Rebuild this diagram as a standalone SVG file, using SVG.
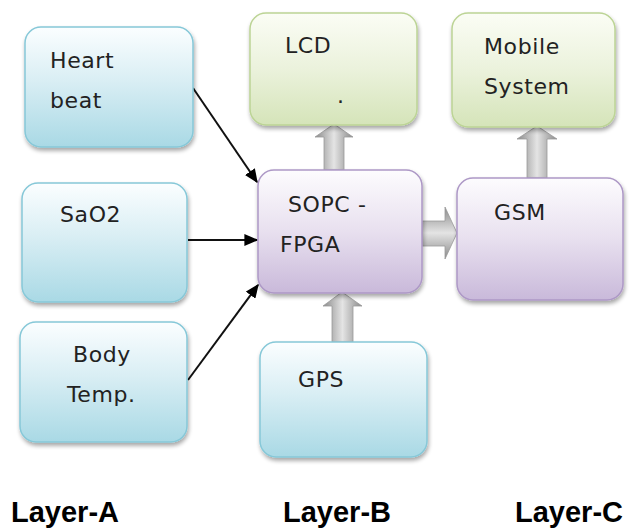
<svg xmlns="http://www.w3.org/2000/svg" width="634" height="529" viewBox="0 0 634 529">
<defs>
<linearGradient id="gb" x1="0" y1="0" x2="0" y2="1"><stop offset="0" stop-color="#fbfeff"/><stop offset="0.45" stop-color="#d9eef4"/><stop offset="1" stop-color="#a9d9e5"/></linearGradient>
<linearGradient id="gg" x1="0" y1="0" x2="0" y2="1"><stop offset="0" stop-color="#fbfdf5"/><stop offset="0.5" stop-color="#ebf2dc"/><stop offset="1" stop-color="#d5e4b9"/></linearGradient>
<linearGradient id="gp" x1="0" y1="0" x2="0" y2="1"><stop offset="0" stop-color="#fdfcfe"/><stop offset="0.5" stop-color="#e8e0ef"/><stop offset="1" stop-color="#c9b9da"/></linearGradient>
<linearGradient id="ga" x1="0" y1="0" x2="1" y2="0"><stop offset="0" stop-color="#8a8a8a"/><stop offset="0.5" stop-color="#e4e4e4"/><stop offset="1" stop-color="#8a8a8a"/></linearGradient>
<linearGradient id="gah" x1="0" y1="0" x2="0" y2="1"><stop offset="0" stop-color="#8a8a8a"/><stop offset="0.5" stop-color="#e4e4e4"/><stop offset="1" stop-color="#8a8a8a"/></linearGradient>
<filter id="sh" x="-10%" y="-10%" width="125%" height="130%"><feGaussianBlur in="SourceAlpha" stdDeviation="2"/><feOffset dx="1" dy="3"/><feComponentTransfer><feFuncA type="linear" slope="0.35"/></feComponentTransfer><feMerge><feMergeNode/><feMergeNode in="SourceGraphic"/></feMerge></filter>
<marker id="ah" viewBox="0 0 10 10" refX="9" refY="5" markerWidth="14" markerHeight="12" markerUnits="userSpaceOnUse" orient="auto" preserveAspectRatio="none"><path d="M0,0 L10,5 L0,10 z" fill="#000"/></marker>
</defs>
<style>
.b{fill:url(#gb);stroke:#86c8d8;stroke-width:1.5;filter:url(#sh)}
.g{fill:url(#gg);stroke:#bcd495;stroke-width:1.5;filter:url(#sh)}
.p{fill:url(#gp);stroke:#ad98c6;stroke-width:1.5;filter:url(#sh)}
.t{font-family:"DejaVu Sans",Verdana,sans-serif;font-size:22px;fill:#222;letter-spacing:0.6px}
.L{font-family:"Liberation Sans",Arial,sans-serif;font-size:29px;font-weight:bold;fill:#000}
.ln{stroke:#111;stroke-width:2;fill:none;marker-end:url(#ah)}
.ba{fill:url(#ga);stroke:#9a9a9a;stroke-width:0.8}
.bah{fill:url(#gah);stroke:#9a9a9a;stroke-width:0.8}
</style>
<rect width="634" height="529" fill="#fff"/>
<g id="connectors">
<path class="ln" d="M193,88 L257,182"/>
<path class="ln" d="M188,240 L257,240"/>
<path class="ln" d="M188,380 L258,285"/>
<path class="ba" d="M324,170 L324,137 L315,137 L334,124 L353,137 L344,137 L344,170 z"/>
<path class="ba" d="M527,178 L527,139 L517,139 L537,126 L557,139 L547,139 L547,178 z"/>
<path class="ba" d="M332,342 L332,306 L323,306 L342,292 L362,306 L353,306 L353,342 z"/>
<path class="bah" d="M422,221 L445,221 L445,207 L457,233 L445,259 L445,246 L422,246 z"/>
</g>
<g id="heartbeat"><rect class="b" x="25" y="27" width="168" height="120" rx="16"/><text class="t" x="50" y="68">Heart</text><text class="t" x="50" y="108">beat</text></g>
<g id="sao2"><rect class="b" x="22" y="183" width="165" height="119" rx="16"/><text class="t" x="60" y="222">SaO2</text></g>
<g id="bodytemp"><rect class="b" x="20" y="322" width="167" height="120" rx="16"/><text class="t" x="73" y="362">Body</text><text class="t" x="67" y="402">Temp.</text></g>
<g id="lcd"><rect class="g" x="250" y="13" width="167" height="112" rx="16"/><text class="t" x="285" y="53">LCD</text><text class="t" x="337" y="103">.</text></g>
<g id="mobile"><rect class="g" x="452" y="13" width="163" height="114" rx="16"/><text class="t" x="484" y="54">Mobile</text><text class="t" x="484" y="94">System</text></g>
<g id="sopc"><rect class="p" x="258" y="170" width="164" height="123" rx="16"/><text class="t" x="288" y="212">SOPC -</text><text class="t" x="280" y="252">FPGA</text></g>
<g id="gsm"><rect class="p" x="457" y="178" width="166" height="122" rx="16"/><text class="t" x="494" y="220">GSM</text></g>
<g id="gps"><rect class="b" x="260" y="342" width="167" height="115" rx="16"/><text class="t" x="298" y="387">GPS</text></g>
<g id="labels"><text class="L" x="11" y="522">Layer-A</text><text class="L" x="283" y="522">Layer-B</text><text class="L" x="515" y="522">Layer-C</text></g>
</svg>
